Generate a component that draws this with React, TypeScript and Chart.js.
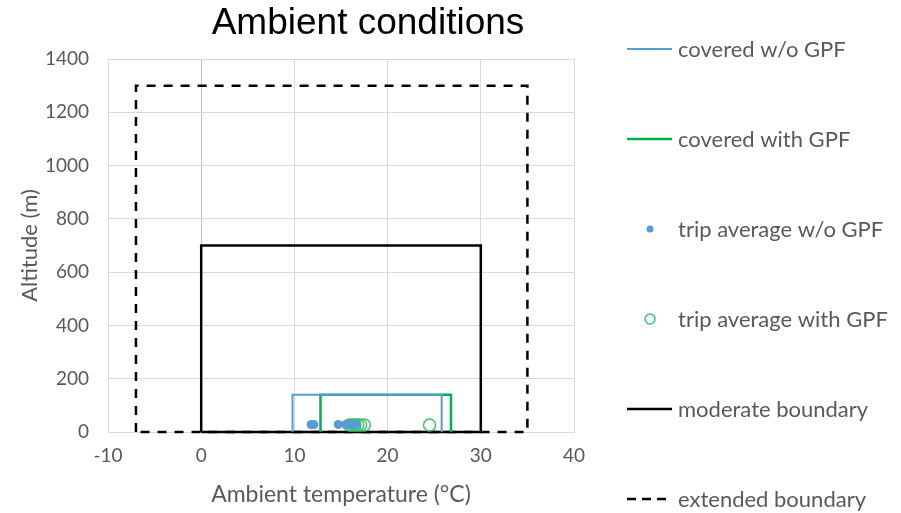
import React, { useEffect, useRef } from "react";
import { Chart, registerables } from "chart.js";

Chart.register(...registerables);

// ---- data ----
const chartTitle = "Ambient conditions";
const xAxisTitle = "Ambient temperature (°C)";
const yAxisTitle = "Altitude (m)";
const seriesLabels = [
  "covered w/o GPF",
  "covered with GPF",
  "trip average w/o GPF",
  "trip average with GPF",
  "moderate boundary",
  "extended boundary",
];

const xMin = -10;
const xMax = 40;
const xStep = 10;
const yMin = 0;
const yMax = 1400;
const yStep = 200;

const coveredNoGpfX = [9.8, 9.8, 25.8, 25.8];
const coveredNoGpfY = [0, 140, 140, 0];
const coveredGpfX = [12.8, 12.8, 26.8, 26.8];
const coveredGpfY = [0, 140, 140, 0];
const tripNoGpfX = [11.8, 12.1, 14.7, 15.5, 15.8, 16.2, 16.6];
const tripNoGpfY = [28, 28, 28, 28, 28, 28, 28];
const tripGpfX = [15.9, 16.2, 16.5, 16.8, 17.1, 17.5, 24.5];
const tripGpfY = [26, 26, 26, 26, 26, 26, 26];
const moderateX = [0, 0, 30, 30, 0];
const moderateY = [0, 700, 700, 0, 0];
const extendedX = [-7, -7, 35, 35, -7];
const extendedY = [0, 1300, 1300, 0, 0];

const toPts = (xs: number[], ys: number[]) => xs.map((x, i) => ({ x, y: ys[i] }));

const BLUE = "#5b9bd5";
const GREEN = "#00b050";
const GREEN_LIGHT = "#3fc26f";
const TEXT = "#595959";
const GRID = "#d9d9d9";
const FONT = "Lato, 'Open Sans', sans-serif";

const legendPlugin = {
  id: "customLegendTitle",
  afterDraw(chart: any) {
    const ctx = chart.ctx;
    ctx.save();
    // title
    ctx.fillStyle = "#000000";
    ctx.font = "37px 'Liberation Sans', Arial, sans-serif";
    ctx.textAlign = "center";
    ctx.textBaseline = "alphabetic";
    ctx.fillText(chartTitle, 368, 34);

    // legend
    const lineX0 = 627;
    const lineLen = 45;
    const textX = 678;
    const y0 = 49;
    const gap = 90;
    chart.data.datasets.forEach((ds: any, i: number) => {
      const y = y0 + i * gap;
      const kind = ds.legendKind;
      ctx.setLineDash([]);
      if (kind === "line") {
        ctx.strokeStyle = ds.borderColor;
        ctx.lineWidth = ds.borderWidth;
        if (ds.borderDash) ctx.setLineDash([9, 6]);
        ctx.beginPath();
        ctx.moveTo(lineX0, y);
        ctx.lineTo(lineX0 + lineLen, y);
        ctx.stroke();
        ctx.setLineDash([]);
      } else if (kind === "dot") {
        ctx.fillStyle = ds.backgroundColor;
        ctx.beginPath();
        ctx.arc(650, y, 3.5, 0, Math.PI * 2);
        ctx.fill();
      } else if (kind === "circle") {
        ctx.strokeStyle = ds.borderColor;
        ctx.lineWidth = 1.5;
        ctx.beginPath();
        ctx.arc(650, y, 5, 0, Math.PI * 2);
        ctx.stroke();
      }
      ctx.fillStyle = TEXT;
      ctx.font = `22px ${FONT}`;
      ctx.textAlign = "left";
      ctx.textBaseline = "middle";
      ctx.fillText(ds.label, textX, y + 1);
    });
    ctx.restore();
  },
};

export default function App() {
  const canvasRef = useRef<HTMLCanvasElement | null>(null);

  useEffect(() => {
    document.body.style.margin = "0";
    const canvas = canvasRef.current;
    if (!canvas) return;
    const chart = new Chart(canvas, {
      type: "scatter",
      data: {
        datasets: [
          {
            label: seriesLabels[0],
            data: toPts(coveredNoGpfX, coveredNoGpfY),
            showLine: true,
            borderColor: BLUE,
            backgroundColor: BLUE,
            borderWidth: 2,
            pointRadius: 0,
            clip: false,
            legendKind: "line",
          } as any,
          {
            label: seriesLabels[1],
            data: toPts(coveredGpfX, coveredGpfY),
            showLine: true,
            borderColor: GREEN,
            backgroundColor: GREEN,
            borderWidth: 2.5,
            pointRadius: 0,
            clip: false,
            legendKind: "line",
          } as any,
          {
            label: seriesLabels[2],
            data: toPts(tripNoGpfX, tripNoGpfY),
            showLine: false,
            borderColor: BLUE,
            backgroundColor: BLUE,
            pointRadius: 4.5,
            pointBorderWidth: 0,
            clip: false,
            legendKind: "dot",
          } as any,
          {
            label: seriesLabels[3],
            data: toPts(tripGpfX, tripGpfY),
            showLine: false,
            borderColor: GREEN_LIGHT,
            backgroundColor: "rgba(255,255,255,0)",
            pointRadius: 6,
            pointBorderWidth: 1.5,
            clip: false,
            legendKind: "circle",
          } as any,
          {
            label: seriesLabels[4],
            data: toPts(moderateX, moderateY),
            showLine: true,
            borderColor: "#000000",
            backgroundColor: "#000000",
            borderWidth: 2.5,
            pointRadius: 0,
            clip: false,
            legendKind: "line",
          } as any,
          {
            label: seriesLabels[5],
            data: toPts(extendedX, extendedY),
            showLine: true,
            borderColor: "#000000",
            backgroundColor: "#000000",
            borderWidth: 2.5,
            borderDash: [9, 8],
            pointRadius: 0,
            clip: false,
            legendKind: "line",
          } as any,
        ],
      },
      options: {
        animation: false,
        responsive: false,
        devicePixelRatio: 1,
        layout: { padding: { top: 59, right: 327, bottom: 0, left: 0 } },
        plugins: {
          legend: { display: false },
          title: { display: false },
          tooltip: { enabled: false },
        },
        scales: {
          x: {
            type: "linear",
            min: xMin,
            max: xMax,
            ticks: {
              stepSize: xStep,
              color: TEXT,
              padding: 12,
              font: { family: FONT, size: 19 },
              callback: (v: any) => String(v),
            },
            grid: {
              drawTicks: false,
              color: (c: any) => (c.tick && c.tick.value === 0 ? "#bfbfbf" : GRID),
            },
            border: { color: GRID },
            title: {
              display: true,
              text: xAxisTitle,
              color: TEXT,
              font: { family: FONT, size: 23 },
              padding: { top: 0, bottom: 5 },
            },
            afterFit: (s: any) => {
              s.height = 81;
            },
          },
          y: {
            type: "linear",
            min: yMin,
            max: yMax,
            ticks: {
              stepSize: yStep,
              color: TEXT,
              padding: 19,
              font: { family: FONT, size: 19 },
              callback: (v: any) => String(v),
            },
            grid: { drawTicks: false, color: GRID },
            border: { color: GRID },
            title: {
              display: true,
              text: yAxisTitle,
              color: TEXT,
              font: { family: FONT, size: 22 },
              padding: { top: 17, bottom: 0 },
            },
            afterFit: (s: any) => {
              s.width = 108;
            },
          },
        },
      } as any,
      plugins: [legendPlugin],
    });
    return () => chart.destroy();
  }, []);

  return (
    <div style={{ width: 901, height: 513, position: "relative" }}>
      <canvas ref={canvasRef} width={901} height={513} />
    </div>
  );
}
